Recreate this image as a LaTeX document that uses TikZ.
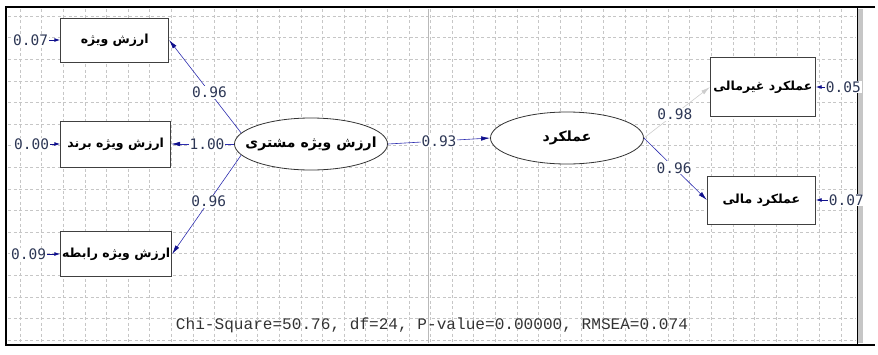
\documentclass[tikz,border=0pt]{standalone}
\usepackage{fontspec}
\usepackage{tikz}
\usetikzlibrary{positioning,shapes.geometric,arrows.meta}
\TeXXeTstate=1
\newfontfamily\farsifont[Script=Arabic]{DejaVu Sans}
\newfontfamily\digitfont{DejaVu Sans Mono}
\newfontfamily\fitfont{Liberation Mono}
\newcommand{\fa}[1]{{\farsifont\bfseries\beginR #1\endR}}
\definecolor{pathblue}{RGB}{45,45,175}
\definecolor{tipblue}{RGB}{15,15,140}
\definecolor{pathgray}{RGB}{205,205,205}
\definecolor{numink}{RGB}{45,55,85}

\begin{document}
\begin{tikzpicture}[x=1pt,y=-1pt,
  indicator/.style={draw=black!75, line width=0.8pt, fill=white, minimum width=108pt,
    minimum height=45pt, inner sep=0pt, font=\fontsize{12.5}{14}\selectfont},
  construct/.style={ellipse, draw=black!80, line width=0.8pt, fill=white,
    minimum width=153pt, minimum height=52pt, inner xsep=-14pt, inner ysep=0pt,
    font=\fontsize{14}{16}\selectfont},
  coef/.style={fill=white, inner sep=1pt, text=numink, font=\digitfont\fontsize{14.5}{15}\selectfont},
  load/.style={draw=pathblue, line width=0.6pt, -{Latex[length=9pt,width=4.5pt,color=tipblue]}},
  weak/.style={draw=pathgray, line width=0.6pt, -{Latex[length=9pt,width=4.5pt,color=pathgray]}},
  errarr/.style={draw=tipblue, line width=0.9pt, -{Latex[length=6pt,width=4pt]}},
  gridline/.style={gray!45, dash pattern=on 3pt off 2.5pt, line width=0.5pt}]

  \useasboundingbox (0,0) rectangle (878,354);
  % background grid and frame
  \foreach \i in {0,...,38}
    \draw[gridline] ({20+21.6*\i},9) -- ({20+21.6*\i},343);
  \foreach \j in {0,...,15}
    \draw[gridline] (8,{16+21.6*\j}) -- (856,{16+21.6*\j});
  \draw[gray!55, line width=0.5pt] (428,9) -- (428,343);
  \fill[gray!45] (858,9) rectangle (863,343);
  \draw[black, line width=0.6pt] (857,7) -- (857,345);
  \draw[black, line width=2pt] (875,7) -- (6,7) -- (6,345) -- (875,345);

  % latent variables
  \node[construct] at (311,144) (ell1) {\fa{ارزش ویژه مشتری}}; %
  \node[construct] at (567,138) (ell2) {\fa{عملکرد}}; %

  % indicators
  \node[indicator, left=65pt of ell1, yshift=104pt, minimum height=44pt] (b1) {\fa{ارزش ویژه}}; %
  \node[indicator, left=63pt of ell1, minimum width=110pt, minimum height=46pt] (b2) {\fa{ارزش ویژه برند}}; %
  \node[indicator, left=62pt of ell1, yshift=-110pt, minimum width=111pt] (b3) {\fa{ارزش ویژه رابطه}}; %
  \node[indicator, right=66pt of ell2, yshift=51pt, minimum width=105pt, minimum height=59pt] (b4) {\fa{عملکرد غیرمالی}}; %
  \node[indicator, right=63pt of ell2, yshift=-62pt, minimum height=48pt] (b5) {\fa{عملکرد مالی}}; %

  % loadings
  \draw[load] (ell1.171) -- node[coef, pos=0.44] (l1) {0.96} (b1.east);
  \draw[load] (ell1.west) -- node[coef, pos=0.43] (l2) {1.00} (b2.east);
  \draw[load] (ell1.189) -- node[coef, pos=0.47] (l3) {0.96} (b3.east);
  \draw[load] (ell1.east) -- node[coef, pos=0.5] (l4) {0.93} (ell2.west);
  \draw[weak] (ell2.east) -- node[coef, pos=0.47] (l5) {0.98} (b4.west);
  \draw[load] (ell2.east) -- node[coef, pos=0.48] (l6) {0.96} (b5.west);

  % error variances
  \node[coef, left=11pt of b1] (e1) {0.07}; %
  \node[coef, left=10pt of b2] (e2) {0.00}; %
  \node[coef, left=13pt of b3] (e3) {0.09}; %
  \node[coef, right=9pt of b4] (e4) {0.05}; %
  \node[coef, right=12pt of b5] (e5) {0.07}; %
  \draw[errarr] (e1) -- (b1);
  \draw[errarr] (e2) -- (b2);
  \draw[errarr] (e3) -- (b3);
  \draw[errarr] (e4) -- (b4);
  \draw[errarr] (e5) -- (b5);

  \node[text=black!80, font=\fitfont\fontsize{16.1}{17}\selectfont] at (432,325) (fit)
    {Chi-Square=50.76, df=24, P-value=0.00000, RMSEA=0.074};
\end{tikzpicture}
\end{document}
